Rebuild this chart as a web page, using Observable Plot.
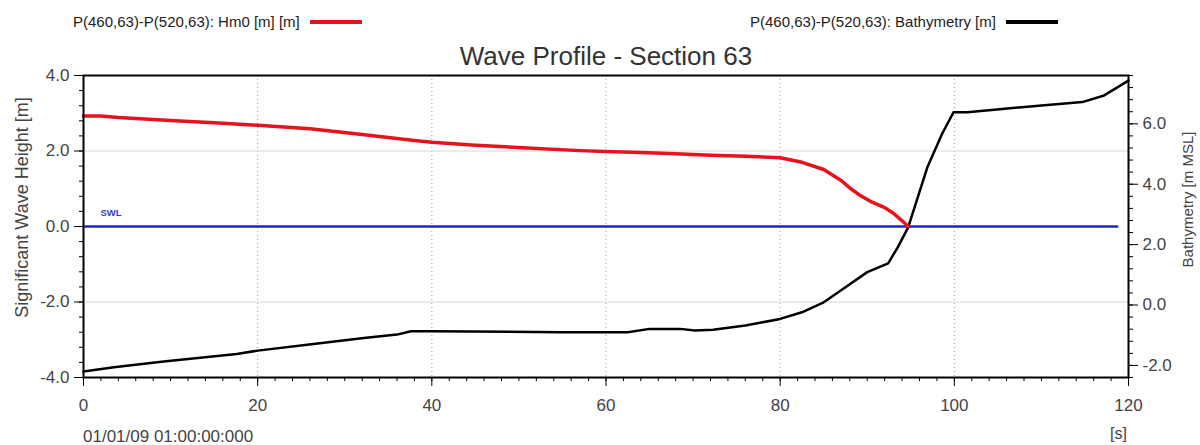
<!DOCTYPE html>
<html>
<head>
<meta charset="utf-8">
<script src="https://cdn.jsdelivr.net/npm/d3@7"></script>
<script src="https://cdn.jsdelivr.net/npm/@observablehq/plot@0.6"></script>
<style>
  body { margin: 0; background: #fff; font-family: "Liberation Sans", Arial, sans-serif; }
  #wrap { position: relative; width: 1200px; height: 445px; overflow: hidden; }
  .ov { position: absolute; white-space: nowrap; color: #222; }
  .leg { font-size: 15px; display: flex; align-items: center; }
  .leg svg { margin-left: 10px; }
</style>
</head>
<body>
<div id="wrap"></div>
<script>
// ---- data ----
const hm0Time = [0, 2, 4, 7, 10, 15, 20, 26, 32, 38, 40, 45, 51, 57, 60, 64, 68, 72, 76, 80, 82.5, 85, 87, 88, 89.2, 90.5, 92, 93, 94, 94.7];
const hm0Value = [2.93, 2.93, 2.89, 2.85, 2.81, 2.75, 2.68, 2.59, 2.44, 2.28, 2.23, 2.15, 2.08, 2.01, 1.99, 1.96, 1.93, 1.89, 1.86, 1.82, 1.70, 1.51, 1.22, 1.02, 0.82, 0.65, 0.50, 0.35, 0.15, 0.0];
const bathyTime = [0, 3.5, 9.2, 17.6, 20, 26.4, 32.2, 36, 37.6, 40, 55, 62.5, 65, 68.5, 70.2, 72.3, 76, 80, 82.5, 85, 87.5, 90, 92.4, 93.5, 94.7, 96.9, 98.6, 99.9, 101.5, 105.8, 110, 114.7, 117.2, 120];
const bathyValue = [-2.2, -2.06, -1.87, -1.62, -1.51, -1.29, -1.09, -0.98, -0.87, -0.87, -0.9, -0.9, -0.79, -0.79, -0.84, -0.82, -0.68, -0.46, -0.24, 0.09, 0.59, 1.09, 1.38, 1.91, 2.57, 4.56, 5.67, 6.38, 6.38, 6.5, 6.61, 6.72, 6.94, 7.43];
const swlTime = [0, 118.7];
const swlValue = [0, 0];
const xTicks = [0, 20, 40, 60, 80, 100, 120];
const leftTicks = [-4, -2, 0, 2, 4];
const rightTicks = [-2, 0, 2, 4, 6];
const leftDomain = [-4, 4];
const rightDomain = [-2.4, 7.6];
const titleText = "Wave Profile - Section 63";
const legendHm0 = "P(460,63)-P(520,63): Hm0 [m] [m]";
const legendBathy = "P(460,63)-P(520,63): Bathymetry [m]";
const leftLabel = "Significant Wave Height [m]";
const rightLabel = "Bathymetry [m MSL]";
const dateLabel = "01/01/09 01:00:00:000";
const unitLabel = "[s]";

// ---- build ----
const toLeft = b => leftDomain[0] + (b - rightDomain[0]) * (leftDomain[1] - leftDomain[0]) / (rightDomain[1] - rightDomain[0]);
const fromLeft = v => rightDomain[0] + (v - leftDomain[0]) * (rightDomain[1] - rightDomain[0]) / (leftDomain[1] - leftDomain[0]);

const hm0 = hm0Time.map((t, i) => ({t, v: hm0Value[i]}));
const bathy = bathyTime.map((t, i) => ({t, v: toLeft(bathyValue[i])}));
const swl = swlTime.map((t, i) => ({t, v: swlValue[i]}));

const xMinor = d3.range(0, 121, 2);
const leftMinor = d3.range(0, 21).map(i => -4 + 0.4 * i);
const rightMinor = d3.range(0, 26).map(i => toLeft(-2.4 + 0.4 * i));

const chart = Plot.plot({
  width: 1200,
  height: 445,
  marginLeft: 83,
  marginRight: 72,
  marginTop: 75,
  marginBottom: 68,
  style: {fontFamily: "Liberation Sans, Arial, sans-serif", fontSize: "16px", color: "#444", background: "#fff"},
  x: {domain: [0, 120], label: null},
  y: {domain: leftDomain, label: null},
  marks: [
    Plot.gridX(xTicks.slice(1, -1), {stroke: "#999", strokeOpacity: 1, strokeDasharray: "1,3"}),
    Plot.gridY([-2, 2], {stroke: "#d8d8d8", strokeOpacity: 1}),
    Plot.line(swl, {x: "t", y: "v", stroke: "#2323c8", strokeWidth: 2.5}),
    Plot.line(bathy, {x: "t", y: "v", stroke: "#000", strokeWidth: 2.5}),
    Plot.line(hm0, {x: "t", y: "v", stroke: "#e8121c", strokeWidth: 3.5}),
    Plot.text([swl[0]], {x: "t", y: "v", text: () => "SWL", textAnchor: "start", dx: 17, dy: -14, fill: "#3a3acc", fontSize: 9.5, fontWeight: "bold"}),
    Plot.axisX({ticks: xMinor, tickSize: 4, tickFormat: () => "", stroke: "#000", label: null}),
    Plot.axisX({ticks: xTicks, tickSize: 9, tickPadding: 12, tickFormat: d => String(d), stroke: "#000", fontSize: 17, label: null}),
    Plot.axisY({anchor: "left", ticks: leftMinor, tickSize: 4, tickFormat: () => "", stroke: "#000", label: null}),
    Plot.axisY({anchor: "left", ticks: leftTicks, tickSize: 9, tickPadding: 5, tickFormat: d => d.toFixed(1), stroke: "#000", fontSize: 17, label: null}),
    Plot.axisY({anchor: "right", ticks: rightMinor, tickSize: 4, tickFormat: () => "", stroke: "#000", label: null}),
    Plot.axisY({anchor: "right", ticks: rightTicks.map(toLeft), tickSize: 9, tickPadding: 5, tickFormat: d => fromLeft(d).toFixed(1), stroke: "#000", fontSize: 17, label: null}),
    Plot.text([leftLabel], {frameAnchor: "left", textAnchor: "middle", dx: -61, dy: -19, rotate: -90, fontSize: 18, fill: "#444"}),
    Plot.text([rightLabel], {frameAnchor: "right", textAnchor: "middle", dx: 60, dy: -27, rotate: -90, fontSize: 15, fill: "#444"}),
    Plot.frame({stroke: "#000", strokeWidth: 2})
  ]
});

const wrap = document.getElementById("wrap");
wrap.appendChild(chart);

function overlay(html, css, cls) {
  const d = document.createElement("div");
  d.className = "ov " + (cls || "");
  d.innerHTML = html;
  Object.assign(d.style, css);
  wrap.appendChild(d);
  return d;
}
const sample = c => `<svg width="52" height="6"><line x1="0" y1="3" x2="52" y2="3" stroke="${c}" stroke-width="4"/></svg>`;
overlay(`<span>${legendHm0}</span>${sample("#e8121c")}`, {left: "73px", top: "13px"}, "leg");
overlay(`<span>${legendBathy}</span>${sample("#000")}`, {left: "750px", top: "13px"}, "leg");
overlay(titleText, {left: "0px", width: "1212px", textAlign: "center", top: "41px", fontSize: "26px", color: "#333"});
overlay(dateLabel, {left: "83px", top: "427px", fontSize: "17px", color: "#444"});
overlay(unitLabel, {left: "1110px", top: "425px", fontSize: "16px", color: "#444"});
</script>
</body>
</html>
